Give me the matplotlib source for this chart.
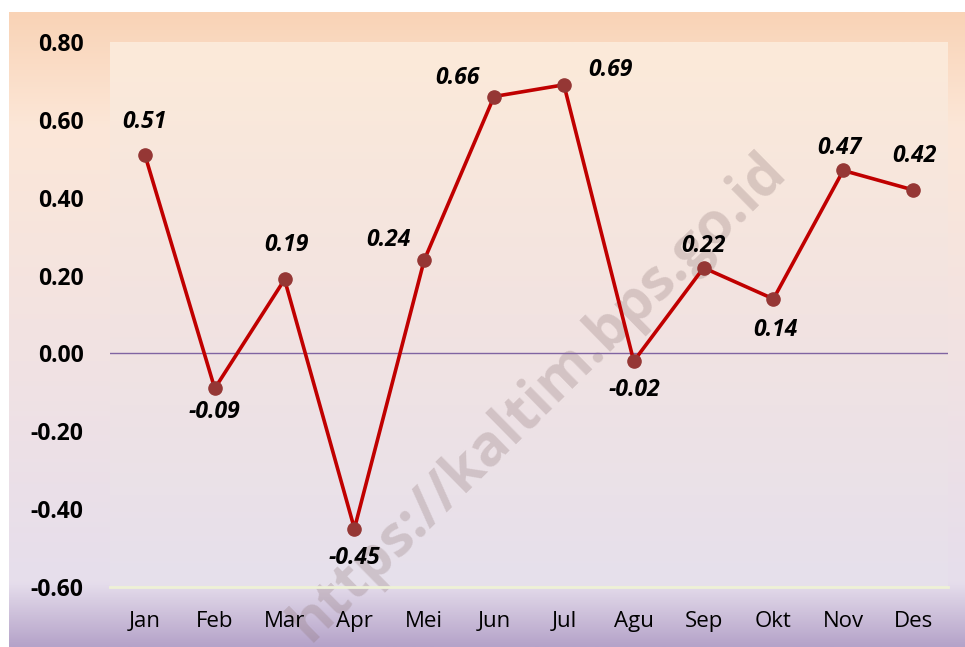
import numpy as np
import matplotlib
matplotlib.use("Agg")
import matplotlib.pyplot as plt
from matplotlib.colors import LinearSegmentedColormap

months = ["Jan", "Feb", "Mar", "Apr", "Mei", "Jun", "Jul", "Agu", "Sep", "Okt", "Nov", "Des"]
values = [0.51, -0.09, 0.19, -0.45, 0.24, 0.66, 0.69, -0.02, 0.22, 0.14, 0.47, 0.42]
yticks = [0.80, 0.60, 0.40, 0.20, 0.00, -0.20, -0.40, -0.60]

# label offsets in pixels (dx, dy), dy positive = up
label_off = [(0, 33), (0, -24), (2, 34), (0, -29), (-36, 20), (-37, 19),
             (47, 15), (1, -29), (0, 22), (2, -31), (-4, 22), (1, 34)]

PX = 72 / 100  # points per pixel at dpi=100

plt.rcParams["font.family"] = ["Open Sans", "DejaVu Sans"]

fig = plt.figure(figsize=(9.65, 6.47), dpi=100)
fig.patch.set_facecolor("white")

# outer chart-area gradient
outer = LinearSegmentedColormap.from_list(
    "outer", [(0.0, "#f9d3b6"), (0.18, "#fce7d8"), (0.55, "#f1e2e3"),
              (0.90, "#e6deec"), (1.0, "#b5a3c9")])
bg = fig.add_axes([9 / 965, 0, 956 / 965, 635 / 647], zorder=-10)
bg.imshow(np.linspace(0, 1, 256).reshape(-1, 1), cmap=outer, aspect="auto",
          extent=(0, 1, 0, 1), origin="upper")
bg.set_axis_off()

ax = fig.add_axes([110 / 965, 1 - 587 / 647, 838 / 965, 545 / 647])
ax.patch.set_alpha(0)
inner = LinearSegmentedColormap.from_list("inner", ["#fcead9", "#f2e3e1", "#e6e0ec"])
x = np.arange(len(months))
ax.imshow(np.linspace(0, 1, 256).reshape(-1, 1), cmap=inner, aspect="auto",
          extent=(-0.5, 11.5, -0.6, 0.8), origin="upper", zorder=0)

ax.text(0.558, 0.385, "https://kaltim.bps.go.id", transform=fig.transFigure,
        rotation=44.5, ha="center", va="center", fontsize=41, fontweight="bold",
        color=(0.55, 0.45, 0.45), alpha=0.28, zorder=1)

ax.axhline(0, color="#8064a2", lw=1.0, zorder=2)
ax.plot(x, values, color="#c00000", lw=2.6, zorder=3)
ax.plot(x, values, "o", color="#953735", ms=9.5, zorder=4)

for xi, v, (dx, dy) in zip(x, values, label_off):
    ax.annotate(f"{v:.2f}", (xi, v), textcoords="offset points",
                xytext=(dx * PX, dy * PX), ha="center", va="center",
                fontsize=16.5, fontweight="bold", fontstyle="italic", zorder=5)

ax.set_xlim(-0.5, 11.5)
ax.set_ylim(-0.6, 0.8)
ax.set_xticks(x)
ax.set_xticklabels(months, fontsize=16)
ax.set_yticks(yticks)
ax.set_yticklabels([f"{t:.2f}" for t in yticks], fontsize=16.5, fontweight="bold")
ax.tick_params(axis="both", length=0)
ax.tick_params(axis="y", pad=19)
ax.tick_params(axis="x", pad=17)
for s in ["top", "right", "left"]:
    ax.spines[s].set_visible(False)
ax.spines["bottom"].set_color("#eef1d6")
ax.spines["bottom"].set_linewidth(2)

fig.savefig("out.png", dpi=100)
